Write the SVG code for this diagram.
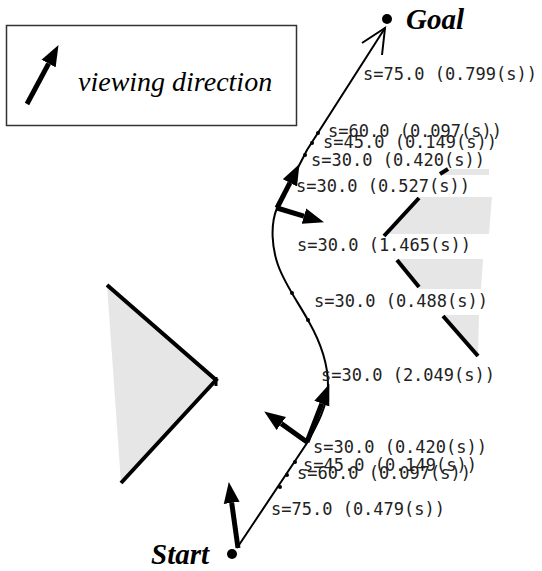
<svg xmlns="http://www.w3.org/2000/svg" width="542" height="571" viewBox="0 0 542 571">
<style>
.lbl{font-family:"DejaVu Sans Mono","Liberation Mono",monospace;font-size:17px;fill:#222}
.big{font-family:"Liberation Serif",serif;font-style:italic;font-weight:bold;font-size:29px;fill:#000}
.obs{fill:#e6e6e6;stroke:none}
.edge{stroke:#000;stroke-width:4;fill:none;stroke-linejoin:miter}
.dir{stroke:#000;stroke-width:5;fill:none;marker-end:url(#head)}
.tick{fill:#000}
</style>
<defs>
<marker id="head" markerUnits="userSpaceOnUse" markerWidth="22" markerHeight="17" refX="0" refY="8" orient="auto" viewBox="0 0 22 16">
<path d="M0,0 L21,8 L0,16 z" fill="#000"/>
</marker>
</defs>
<g id="legend">
<rect x="6.5" y="25.5" width="290" height="100" fill="#fff" stroke="#333" stroke-width="1.5"/>
<line class="dir" x1="27" y1="104" x2="48.6" y2="63.6"/>
<text x="78" y="91" style="font-family:'Liberation Serif',serif;font-style:italic;font-size:28px">viewing direction</text>
</g>
<g id="obstacle-left">
<polygon class="obs" points="107,285 216,380 121,483"/>
<polyline class="edge" points="107,285 216,380 121,483"/>
<line x1="216" y1="377" x2="216" y2="386" stroke="#000" stroke-width="3"/>
</g>
<g id="obstacles-right">
<polygon class="obs" points="447,169 489,169 489,175 440,175"/>
<line class="edge" x1="440" y1="174" x2="448" y2="169" stroke-width="3"/>
<polygon class="obs" points="419,197 492,197 489,234 386,234"/>
<line class="edge" x1="419" y1="198" x2="384" y2="236" stroke-width="3"/>
<polygon class="obs" points="397,259 483,259 481,289 419,289"/>
<line class="edge" x1="397" y1="260" x2="419" y2="287" stroke-width="3"/>
<polygon class="obs" points="443,315 479,315 478,357"/>
<line class="edge" x1="443" y1="316" x2="478" y2="356" stroke-width="3"/>
</g>
<g id="connectors">
<path d="M237,548 L307,443 C317,425 328,405 328,385 C328,365 322,345 309,322 C300,305 285,285 278,265 C272,248 270,225 277,208 C287,188 298,168 307,150 L385,28" fill="none" stroke="#000" stroke-width="2"/>
<polyline points="362,43 385,28 382,55" fill="none" stroke="#000" stroke-width="2"/>
<circle class="tick" cx="318" cy="133" r="2"/>
<circle class="tick" cx="312" cy="143" r="2"/>
<circle class="tick" cx="305" cy="155" r="2"/>
<circle class="tick" cx="292" cy="293" r="2"/>
<circle class="tick" cx="308" cy="320" r="2"/>
<circle class="tick" cx="295" cy="462" r="2"/>
<circle class="tick" cx="287" cy="475" r="2"/>
<circle class="tick" cx="280" cy="487" r="2"/>
</g>
<g id="view-arrows">
<line class="dir" x1="238" y1="548" x2="231.7" y2="502.8"/>
<line class="dir" x1="307" y1="442" x2="321.8" y2="403.7"/>
<line class="dir" x1="307" y1="442" x2="281.3" y2="423.6"/>
<line class="dir" x1="277" y1="208" x2="289.9" y2="182.8"/>
<line class="dir" x1="277" y1="208" x2="303.9" y2="216.2"/>
</g>
<g id="goal">
<circle cx="387" cy="19" r="5" fill="#000"/>
<text class="big" x="406" y="29">Goal</text>
</g>
<g id="start">
<circle cx="232" cy="554" r="5" fill="#000"/>
<text class="big" x="151" y="564">Start</text>
</g>
<g id="labels">
<text class="lbl" x="363" y="80">s=75.0 (0.799(s))</text>
<text class="lbl" x="328" y="137">s=60.0 (0.097(s))</text>
<text class="lbl" x="323" y="148">s=45.0 (0.149(s))</text>
<text class="lbl" x="311" y="166">s=30.0 (0.420(s))</text>
<text class="lbl" x="296" y="192">s=30.0 (0.527(s))</text>
<text class="lbl" x="297" y="251">s=30.0 (1.465(s))</text>
<text class="lbl" x="314" y="307">s=30.0 (0.488(s))</text>
<text class="lbl" x="321" y="381">s=30.0 (2.049(s))</text>
<text class="lbl" x="313" y="453">s=30.0 (0.420(s))</text>
<text class="lbl" x="303" y="471">s=45.0 (0.149(s))</text>
<text class="lbl" x="297" y="479">s=60.0 (0.097(s))</text>
<text class="lbl" x="271" y="515">s=75.0 (0.479(s))</text>
</g>
</svg>
